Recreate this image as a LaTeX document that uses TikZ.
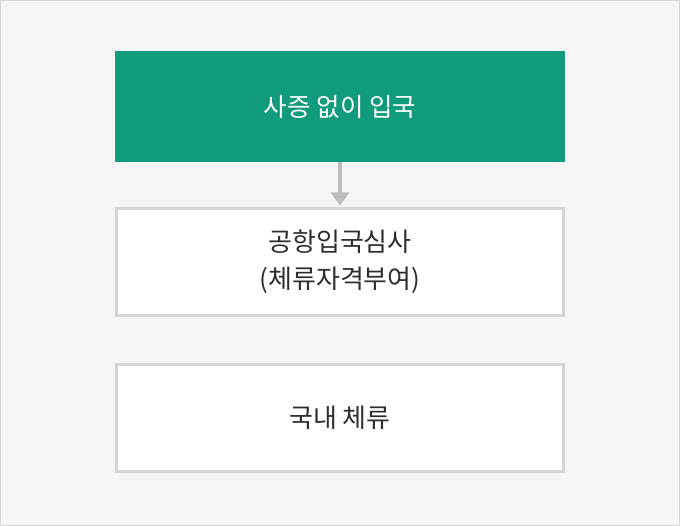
\documentclass[tikz,border=0pt]{standalone}
\usepackage{fontspec}
\newfontfamily\kr{Noto Sans CJK KR}
\usetikzlibrary{arrows.meta}
\definecolor{bg}{HTML}{F5F5F5}
\definecolor{outline}{HTML}{D7D7D7}
\definecolor{teal}{HTML}{109B7C}
\definecolor{boxline}{HTML}{D5D5D5}
\definecolor{arrowgray}{HTML}{BDBDBD}
\definecolor{txt}{HTML}{2E2E2E}
\begin{document}
\begin{tikzpicture}[x=1pt,y=-1pt,
  greenbox/.style={fill=teal, draw=none, minimum width=450pt, minimum height=111pt, inner sep=0pt,
    text=white, font=\kr\fontsize{25.5}{30}\selectfont},
  whitebox/.style={fill=white, draw=boxline, line width=3pt, minimum width=447pt, minimum height=107pt,
    inner sep=0pt, align=center, text=txt, font=\kr\fontsize{26}{37}\selectfont},
  flowarrow/.style={draw=arrowgray, line width=4pt, -{Triangle[width=18pt,length=13pt]}, shorten >=1.5pt}]
\path[fill=bg, draw=outline, line width=1pt] (0.5,0.5) rectangle (679.5,525.5);
\useasboundingbox (0,0) rectangle (680,526);
\node[greenbox] (visa) at (340,106.5) {사증 없이 입국};
\node[whitebox] (check) at (340,262) {공항입국심사\\(체류자격부여)};
\node[whitebox] (stay) at (340,418) {국내 체류};
\draw[flowarrow] (visa) -- (check);
\end{tikzpicture}
\end{document}
